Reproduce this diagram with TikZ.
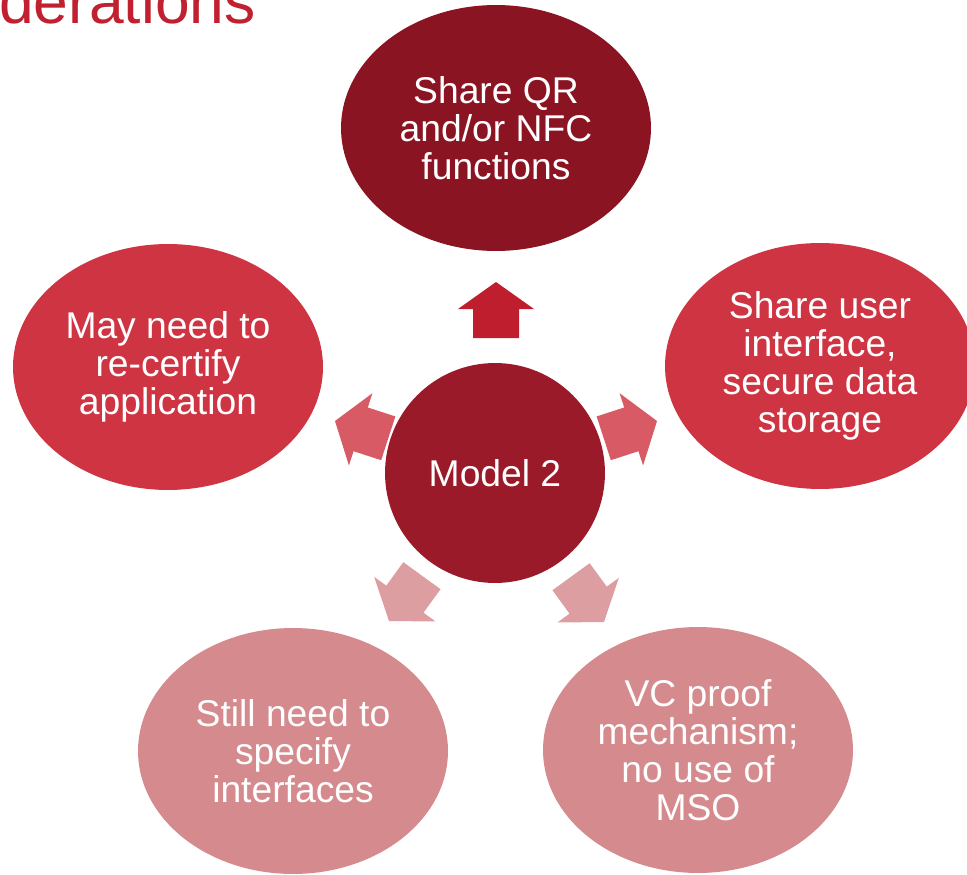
\documentclass[tikz,border=0pt]{standalone}
\usepackage{fontspec}
\setmainfont{Liberation Sans}
\usetikzlibrary{shapes.geometric}

\definecolor{hubred}{HTML}{9B1A2A}
\definecolor{topred}{HTML}{8B1423}
\definecolor{midred}{HTML}{CF3443}
\definecolor{lowpink}{HTML}{D58A8E}
\definecolor{arrowtop}{HTML}{BE1E2D}
\definecolor{arrowmid}{HTML}{D75A64}
\definecolor{arrowlow}{HTML}{DD9EA2}
\definecolor{titlered}{HTML}{C0202F}

\tikzset{
  bubble/.style={ellipse, minimum width=6.2cm, minimum height=4.92cm,
    inner sep=0pt, align=center, text=white,
    font=\fontsize{21.2}{21.7}\selectfont},
  hubcircle/.style={circle, minimum size=4.4cm, inner sep=0pt,
    fill=hubred, text=white, font=\fontsize{21.2}{21.7}\selectfont},
  % block arrow, tip at the origin, pointing up before rotation
  hubarrow/.pic={
    \path[pic actions] (0,0) -- (38,27) -- (23,27) -- (23,56)
      -- (-23,56) -- (-23,27) -- (-38,27) -- cycle;
  }
}

\begin{document}
\begin{tikzpicture}[x=0.02cm, y=-0.02cm]
\useasboundingbox (0,0) rectangle (967,875);

% heading, running off the left edge
\node[anchor=base east, inner sep=0pt, text=titlered,
  font=\fontsize{35.5}{40}\selectfont] (heading) at (256,24) {derations};

% outer bubbles
\node[bubble, fill=topred]  (share)   at (496,128) {Share QR\\and/or NFC\\functions};
\node[bubble, fill=midred]  (ui)      at (820,366) {Share user\\interface,\\secure data\\storage};
\node[bubble, fill=midred]  (recert)  at (168,367) {May need to\\re-certify\\application};
\node[bubble, fill=lowpink] (iface)   at (293,751) {Still need to\\specify\\interfaces};
\node[bubble, fill=lowpink] (vcproof) at (698,750) {VC proof\\mechanism;\\no use of\\MSO};

% hub
\node[hubcircle] (hub) at (495,473) {Model 2};

% block arrows from the hub towards each bubble
\pic[fill=arrowtop]              at (496,282) {hubarrow};
\pic[fill=arrowmid, rotate=-72]  at (657,421) {hubarrow};
\pic[fill=arrowmid, rotate=72]   at (335,421) {hubarrow};
\pic[fill=arrowlow, rotate=144]  at (389,621) {hubarrow};
\pic[fill=arrowlow, rotate=-144] at (604,622) {hubarrow};
\end{tikzpicture}
\end{document}
